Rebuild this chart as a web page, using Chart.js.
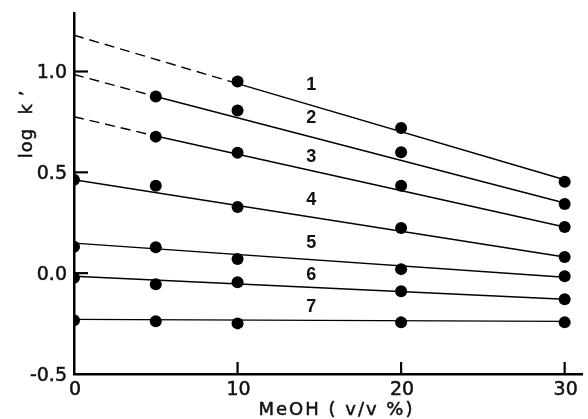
<!DOCTYPE html>
<html>
<head>
<meta charset="utf-8">
<script src="https://cdn.jsdelivr.net/npm/chart.js@4"></script>
<style>
  html, body { margin: 0; padding: 0; background: #fff; }
  #wrap { width: 588px; height: 419px; }
</style>
</head>
<body>
<div id="wrap"><canvas id="chart"></canvas></div>
<script>
// MeOH content (v/v %)
const meohValues = [0, 5, 10, 20, 30];

// log k' measured for each compound (null = not measured)
const compound1 = [null, null, 0.95, 0.72, 0.453];
const compound2 = [null, 0.876, 0.806, 0.6, 0.343];
const compound3 = [null, 0.677, 0.597, 0.433, 0.229];
const compound4 = [0.463, 0.433, 0.328, 0.224, 0.08];
const compound5 = [0.131, 0.129, 0.07, 0.02, -0.015];
const compound6 = [-0.023, -0.055, -0.045, -0.09, -0.129];
const compound7 = [-0.234, -0.239, -0.249, -0.244, -0.244];

// regression lines: value at 0 %, at 30 %, and where the dashed extrapolation ends
const fitAtZero = [1.18, 0.985, 0.776, 0.463, 0.149, -0.015, -0.229];
const fitAtThirty = [0.463, 0.348, 0.229, 0.08, -0.02, -0.129, -0.239];
const dashEndX = [10, 5, 5, null, null, null, null];
const dashEndY = [0.94, 0.876, 0.68, null, null, null, null];

const curveLabels = ["1", "2", "3", "4", "5", "6", "7"];
const labelX = 14.5;
const labelY = [0.935, 0.771, 0.577, 0.363, 0.149, -0.01, -0.169];

const yTicks = [-0.5, 0, 0.5, 1.0];
const xTicks = [0, 10, 20, 30];

const compounds = [compound1, compound2, compound3, compound4, compound5, compound6, compound7];

const datasets = [];
compounds.forEach((vals, i) => {
  const line = [{ x: 0, y: fitAtZero[i] }];
  if (dashEndX[i] !== null) line.push({ x: dashEndX[i], y: dashEndY[i] });
  line.push({ x: 30, y: fitAtThirty[i] });
  const dashed = dashEndX[i] !== null;
  datasets.push({
    data: line,
    showLine: true,
    borderColor: "#000",
    borderWidth: 1.4,
    pointRadius: 0,
    segment: {
      borderDash: (ctx) => (dashed && ctx.p0DataIndex === 0 ? [10, 6] : undefined),
    },
  });
  datasets.push({
    data: meohValues
      .map((x, j) => ({ x: x, y: vals[j] }))
      .filter((p) => p.y !== null),
    showLine: false,
    pointRadius: 6,
    pointBorderWidth: 0,
    pointBackgroundColor: "#000",
    clip: { left: 0, top: 10, right: 10, bottom: 10 },
  });
});

// heavier text: fill plus a thin outline
const boldText = (ctx, text, x, y) => {
  ctx.fillText(text, x, y);
  ctx.strokeText(text, x, y);
};

const extras = {
  id: "extras",
  afterDraw(chart) {
    const ctx = chart.ctx;
    const xs = chart.scales.x;
    const ys = chart.scales.y;
    const area = chart.chartArea;
    ctx.save();
    // inward tick marks
    ctx.strokeStyle = "#000";
    ctx.lineWidth = 2.2;
    [0, 0.5, 1.0].forEach((v) => {
      const py = ys.getPixelForValue(v);
      ctx.beginPath();
      ctx.moveTo(area.left, py);
      ctx.lineTo(area.left + 14, py);
      ctx.stroke();
    });
    [10, 20, 30].forEach((v) => {
      const px = xs.getPixelForValue(v);
      ctx.beginPath();
      ctx.moveTo(px, area.bottom);
      ctx.lineTo(px, area.bottom - 12);
      ctx.stroke();
    });

    ctx.fillStyle = "#111";
    ctx.strokeStyle = "#111";
    ctx.lineWidth = 0.5;
    ctx.textBaseline = "middle";

    // tick labels
    ctx.font = "19px 'DejaVu Sans'";
    ctx.textAlign = "right";
    yTicks.forEach((v) => {
      boldText(ctx, v.toFixed(1), area.left - 7, ys.getPixelForValue(v) + 2);
    });
    ctx.textAlign = "center";
    xTicks.forEach((v) => {
      boldText(ctx, String(v), xs.getPixelForValue(v) + 1, area.bottom + 16);
    });

    // curve numbers
    ctx.font = "bold 18px 'Liberation Sans'";
    curveLabels.forEach((t, i) => {
      ctx.fillText(t, xs.getPixelForValue(labelX), ys.getPixelForValue(labelY[i]));
    });

    // axis titles
    ctx.font = "18px 'DejaVu Sans'";
    ctx.letterSpacing = "2px";
    boldText(ctx, "MeOH ( v/v %)", xs.getPixelForValue(16.05), area.bottom + 36);
    ctx.translate(area.left - 47, ys.getPixelForValue(0.74));
    ctx.rotate(-Math.PI / 2);
    ctx.letterSpacing = "1px";
    ctx.font = "18px 'DejaVu Sans'";
    boldText(ctx, "log  k \u2019", 0, 0);
    ctx.restore();
  },
};

new Chart(document.getElementById("chart"), {
  type: "scatter",
  data: { datasets: datasets },
  options: {
    responsive: true,
    maintainAspectRatio: false,
    animation: false,
    layout: { padding: { top: 13, right: 0, left: 0, bottom: 0 } },
    plugins: { legend: { display: false }, tooltip: { enabled: false } },
    scales: {
      x: {
        type: "linear",
        min: 0,
        max: 31.06,
        afterFit: (scale) => { scale.height = 45; },
        grid: { display: false, drawTicks: false },
        border: { display: true, color: "#000", width: 2.5 },
        ticks: { display: false },
      },
      y: {
        type: "linear",
        min: -0.5,
        max: 1.29,
        afterFit: (scale) => { scale.width = 74; },
        grid: { display: false, drawTicks: false },
        border: { display: true, color: "#000", width: 2.5 },
        ticks: { display: false },
      },
    },
  },
  plugins: [extras],
});
</script>
</body>
</html>
